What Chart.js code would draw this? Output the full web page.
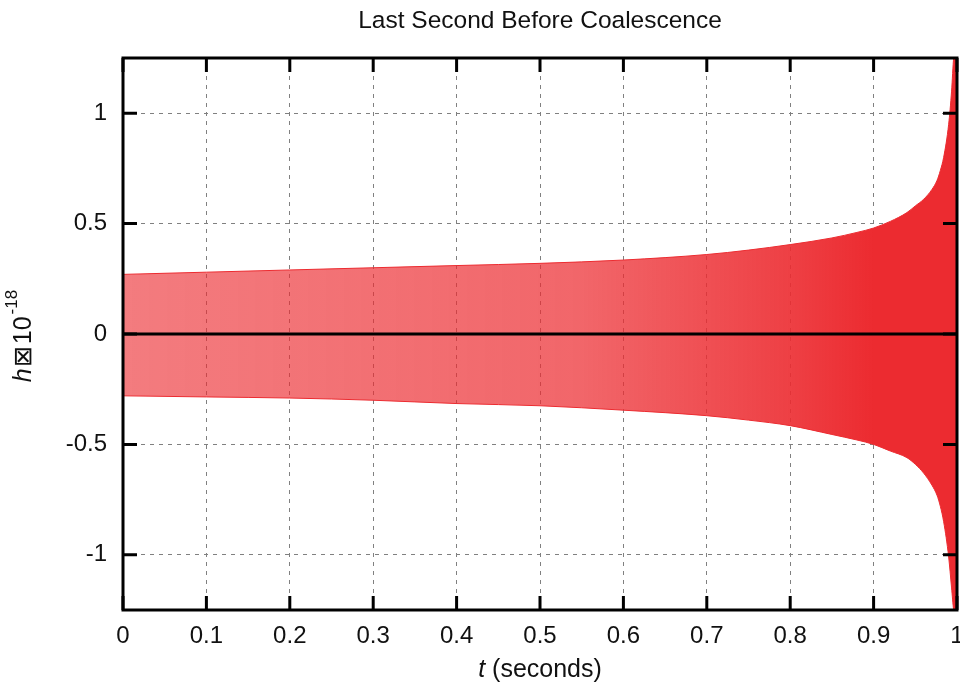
<!DOCTYPE html>
<html>
<head>
<meta charset="utf-8">
<script src="https://cdn.jsdelivr.net/npm/chart.js@4/dist/chart.umd.min.js"></script>
<style>
  html, body { margin: 0; padding: 0; background: #fff; }
  canvas { display: block; }
</style>
</head>
<body>
<canvas id="chirp-chart" width="960" height="688"></canvas>
<script>
// envelope of the strain signal (h in units of 1e-18)
const times = [0, 0.1, 0.2, 0.3, 0.4, 0.5, 0.6, 0.7, 0.75, 0.8, 0.85, 0.88, 0.9, 0.92, 0.94, 0.95, 0.96, 0.97, 0.976, 0.98, 0.984, 0.99, 0.9935, 0.996, 1.0];
const upperEnvelope = [0.27, 0.28, 0.29, 0.30, 0.31, 0.32, 0.335, 0.36, 0.38, 0.405, 0.435, 0.46, 0.48, 0.51, 0.55, 0.58, 0.61, 0.655, 0.695, 0.74, 0.80, 0.95, 1.10, 1.25, 1.3];
const lowerEnvelope = [-0.28, -0.285, -0.29, -0.30, -0.315, -0.325, -0.345, -0.37, -0.39, -0.415, -0.455, -0.48, -0.50, -0.53, -0.56, -0.59, -0.63, -0.685, -0.73, -0.78, -0.85, -1.01, -1.15, -1.25, -1.3];

const xTicks = [0, 0.1, 0.2, 0.3, 0.4, 0.5, 0.6, 0.7, 0.8, 0.9, 1];
const xTickLabels = ['0', '0.1', '0.2', '0.3', '0.4', '0.5', '0.6', '0.7', '0.8', '0.9', '1'];
const yTicks = [-1, -0.5, 0, 0.5, 1];
const yTickLabels = ['-1', '-0.5', '0', '0.5', '1'];

const RED = 'rgb(236, 43, 48)';
const FONT = '"Liberation Sans", Arial, Helvetica, sans-serif';

function waveFill(context) {
    const chart = context.chart;
    const area = chart.chartArea;
    if (!area) return RED;
    const g = chart.ctx.createLinearGradient(area.left, 0, area.right, 0);
    g.addColorStop(0, 'rgba(236, 43, 48, 0.62)');
    g.addColorStop(0.55, 'rgba(236, 43, 48, 0.72)');
    g.addColorStop(0.8, 'rgba(236, 43, 48, 0.9)');
    g.addColorStop(0.9, 'rgba(236, 43, 48, 1)');
    g.addColorStop(1, 'rgba(236, 43, 48, 1)');
    return g;
}

// gnuplot style frame: border, inward ticks, zero axis and axis titles
const framePlugin = {
    id: 'frame',
    afterDatasetsDraw(chart) {
        const { ctx, chartArea: a, scales: { x, y } } = chart;
        ctx.save();
        ctx.strokeStyle = '#000';

        // zero axis
        ctx.lineWidth = 3;
        const y0 = y.getPixelForValue(0);
        ctx.beginPath();
        ctx.moveTo(a.left, y0);
        ctx.lineTo(a.right, y0);
        ctx.stroke();

        // tick marks pointing inside
        const len = 14;
        ctx.beginPath();
        xTicks.forEach(v => {
            const px = x.getPixelForValue(v);
            ctx.moveTo(px, a.bottom); ctx.lineTo(px, a.bottom - len);
            ctx.moveTo(px, a.top); ctx.lineTo(px, a.top + len);
        });
        yTicks.forEach(v => {
            const py = y.getPixelForValue(v);
            ctx.moveTo(a.left, py); ctx.lineTo(a.left + len, py);
            ctx.moveTo(a.right, py); ctx.lineTo(a.right - len, py);
        });
        ctx.stroke();

        // border
        ctx.strokeRect(a.left, a.top, a.right - a.left, a.bottom - a.top);
        ctx.restore();
    },
    afterDraw(chart) {
        const { ctx, chartArea: a } = chart;
        ctx.save();
        ctx.fillStyle = '#111';
        ctx.textBaseline = 'alphabetic';

        const size = 25;
        const italic = 'italic ' + size + 'px ' + FONT;
        const normal = size + 'px ' + FONT;

        // x title: "t (seconds)" with italic t
        ctx.font = italic;
        const wT = ctx.measureText('t').width;
        ctx.font = normal;
        const wRest = ctx.measureText(' (seconds)').width;
        const sx = (a.left + a.right) / 2 - (wT + wRest) / 2;
        const baseX = 677;
        ctx.font = italic;
        ctx.fillText('t', sx, baseX);
        ctx.font = normal;
        ctx.fillText(' (seconds)', sx + wT, baseX);

        // y title: "h ⊠10^-18", rotated
        ctx.translate(31, 336);
        ctx.rotate(-Math.PI / 2);
        const supFont = '17px ' + FONT;
        ctx.font = italic;
        const wH = ctx.measureText('h').width;
        ctx.font = normal;
        const wBox = ctx.measureText('\u22A0').width;
        const wTen = ctx.measureText('10').width;
        ctx.font = supFont;
        const wSup = ctx.measureText('-18').width;
        let cx = -(wH + 1 + wBox + 2 + wTen + 2 + wSup) / 2;
        ctx.font = italic;
        ctx.fillText('h', cx, 0);
        cx += wH + 1;
        ctx.font = normal;
        ctx.fillText('\u22A0', cx, 0);
        cx += wBox + 2;
        ctx.fillText('10', cx, 0);
        cx += wTen + 2;
        ctx.font = supFont;
        ctx.fillText('-18', cx, -14);
        ctx.restore();
    }
};

const ctx = document.getElementById('chirp-chart').getContext('2d');

window.chirpChart = new Chart(ctx, {
    type: 'line',
    data: {
        labels: times,
        datasets: [{
            label: 'upper',
            data: times.map((t, i) => ({ x: t, y: upperEnvelope[i] })),
            borderColor: RED,
            borderWidth: 1,
            backgroundColor: waveFill,
            fill: '+1',
            pointRadius: 0,
            cubicInterpolationMode: 'monotone'
        }, {
            label: 'lower',
            data: times.map((t, i) => ({ x: t, y: lowerEnvelope[i] })),
            borderColor: RED,
            borderWidth: 1,
            fill: false,
            pointRadius: 0,
            cubicInterpolationMode: 'monotone'
        }]
    },
    options: {
        responsive: false,
        animation: false,
        layout: { padding: { left: 0, right: 3, top: 0, bottom: 0 } },
        plugins: {
            legend: { display: false },
            tooltip: { enabled: false },
            title: {
                display: true,
                fullSize: false,
                text: 'Last Second Before Coalescence',
                color: '#111',
                font: { family: FONT, size: 24.5, weight: 'normal', lineHeight: 1.2 },
                padding: { top: 7, bottom: 21.6 }
            }
        },
        scales: {
            x: {
                type: 'linear',
                min: 0,
                max: 1,
                afterBuildTicks: scale => { scale.ticks = xTicks.map(v => ({ value: v })); },
                afterFit: scale => {
                    scale.height = 78;
                    scale.paddingLeft = 0;
                    scale.paddingRight = 0;
                },
                ticks: {
                    autoSkip: false,
                    maxRotation: 0,
                    padding: 12,
                    color: '#111',
                    font: { family: FONT, size: 24 },
                    callback: v => xTickLabels[xTicks.indexOf(v)]
                },
                grid: { color: '#808080', lineWidth: 1, drawTicks: false },
                border: { display: false, dash: [4, 5] }
            },
            y: {
                type: 'linear',
                min: -1.25,
                max: 1.25,
                afterBuildTicks: scale => { scale.ticks = yTicks.map(v => ({ value: v })); },
                afterFit: scale => {
                    scale.width = 123;
                    scale.paddingTop = 0;
                    scale.paddingBottom = 0;
                },
                ticks: {
                    autoSkip: false,
                    padding: 16,
                    color: '#111',
                    font: { family: FONT, size: 24 },
                    callback: v => yTickLabels[yTicks.indexOf(v)]
                },
                grid: { color: '#808080', lineWidth: 1, drawTicks: false },
                border: { display: false, dash: [4, 5] }
            }
        }
    },
    plugins: [framePlugin]
});
</script>
</body>
</html>
